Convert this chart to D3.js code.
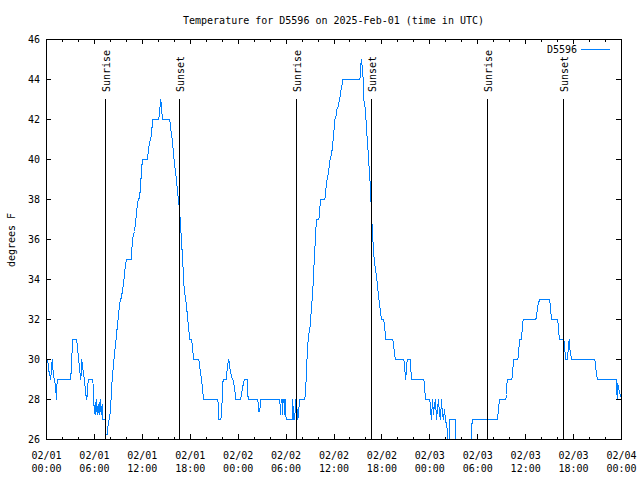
<!DOCTYPE html>
<html><head><meta charset="utf-8">
<script src="https://cdn.jsdelivr.net/npm/d3@7"></script>
<style>
body{margin:0;background:#fff}
svg{display:block}
text{font-family:"DejaVu Sans Mono","Liberation Mono",monospace;font-size:10px;fill:#000}
</style>
</head><body>
<svg id="c" width="640" height="480"></svg>
<script>
const chartTitle = "Temperature for D5596 on 2025-Feb-01 (time in UTC)";
const seriesName = "D5596";
const yAxisLabel = "degrees F";
const startTime = "2025-02-01T00:00:00Z";
const endTime = "2025-02-04T00:00:00Z";
const yDomain = [26, 46];
const yTicks = [26, 28, 30, 32, 34, 36, 38, 40, 42, 44, 46];
// sunrise / sunset, hours after start
const sunHours = [7.43, 16.69, 31.34, 40.73, 55.26, 64.78];
const sunLabels = ["Sunrise", "Sunset", "Sunrise", "Sunset", "Sunrise", "Sunset"];
// readings: [hours after start, degrees F]
const readingsDay1 = [[0.16,30],[0.25,29.5],[0.41,29.25],[0.54,29],[0.63,29.75],[0.75,30],[0.84,29.25],[1.00,29],[1.09,28.75],[1.21,28.25],[1.25,28],[1.34,29],[3.04,29],[3.09,29.5],[3.22,30.5],[3.29,31],[3.76,31],[3.84,30.75],[3.97,30.25],[4.09,29.75],[4.22,29.25],[4.30,29],[4.42,30],[4.55,29.5],[4.67,29.25],[4.80,28.75],[4.92,28.25],[5.05,28],[5.17,28.75],[5.30,29],[5.80,29],[5.89,28.25],[5.97,27.5],[6.10,27.25],[6.22,28],[6.35,27.25],[6.47,27.75],[6.60,27.25],[6.72,28],[6.85,27.25],[6.97,27.75],[7.05,27],[7.35,27],[7.43,26.25],[7.60,26.25],[7.72,26.75],[7.85,27],[7.93,27.2],[8.01,27.4],[8.14,28.5],[8.26,29.2],[8.39,29.75],[8.51,30.25],[8.64,30.75],[8.77,31.25],[8.89,31.75],[9.02,32.2],[9.14,32.75],[9.27,33],[9.39,33.1],[9.52,33.5],[9.64,33.75],[9.77,34.25],[9.89,34.75],[10.02,35],[10.61,35],[10.64,35.25],[10.77,36],[10.89,36.25],[11.02,36.4],[11.14,36.8],[11.27,37.3],[11.39,37.8],[11.52,38],[11.65,38.1],[11.77,38.6],[11.90,39.5],[12.02,40],[12.61,40],[12.68,40.2],[12.81,40.6],[12.93,40.9],[13.06,41],[13.19,41.5],[13.31,42],[14.06,42],[14.15,42.35],[14.24,42.75],[14.31,43],[14.44,42.35],[14.56,42],[15.44,42],[15.53,41.6],[15.65,41.3],[15.78,40.9],[15.90,40.3],[16.03,39.8],[16.15,39.4],[16.28,39],[16.40,38.4],[16.57,37.8],[16.69,37.3],[16.82,36.5],[16.94,35.7],[17.07,34.8],[17.19,33.8],[17.32,33.3],[17.44,33],[17.57,32.5],[17.69,32],[17.82,31.5],[17.94,31],[18.16,31],[18.24,30.75],[18.37,30.25],[18.45,30],[19.07,30],[19.16,29.75],[19.28,29.33],[19.41,29],[19.53,28.6],[19.66,28],[21.45,28],[21.50,27.75],[21.58,27],[21.83,27],[21.95,27.5],[22.04,28.5],[22.12,29],[22.50,29],[22.58,29.33],[22.70,29.75],[22.83,30],[22.95,29.6],[23.08,29.3],[23.20,29.1],[23.33,29],[23.45,28.8],[23.58,28.5],[23.70,28]];
const readingsDay2 = [[24.29,28],[24.42,28.25],[24.54,28.6],[24.67,28.8],[24.79,29],[25.13,29],[25.17,28.5],[25.26,28],[26.46,28],[26.58,27.4],[26.71,27.4],[26.79,28],[29.21,28],[29.30,27.25],[29.39,28],[29.51,28],[29.55,27.25],[29.64,28],[29.80,28],[29.84,27.25],[29.93,28],[30.00,27],[30.77,27],[30.84,28],[30.93,27],[31.09,27],[31.18,28],[31.39,27.5],[31.47,27],[31.59,27.5],[31.72,28],[32.31,28],[32.43,28.25],[32.56,29.5],[32.68,30.5],[32.81,31.2],[32.97,31.5],[33.10,32.17],[33.22,32.75],[33.35,33.5],[33.47,34.5],[33.60,35.5],[33.72,36.5],[33.85,37],[34.10,37],[34.18,37.33],[34.31,38],[34.85,38],[34.94,38.33],[35.06,38.83],[35.19,39.08],[35.31,39.33],[35.44,39.83],[35.56,40.08],[35.72,40.33],[35.85,40.83],[35.98,41.33],[36.10,42],[36.23,42.1],[36.35,42.5],[36.48,42.6],[36.60,42.83],[36.73,43.03],[36.85,43.42],[36.98,43.67],[37.10,44],[39.23,44],[39.32,44.33],[39.41,45],[39.53,44.67],[39.66,44],[39.73,43],[39.86,42.75],[39.98,42.17],[40.11,41.33],[40.23,40.67],[40.36,39.83],[40.48,39.17],[40.61,38.17],[40.70,37.17],[40.82,36.33],[40.94,35.5],[41.07,34.83],[41.20,34.5],[41.32,34.17],[41.45,33.67],[41.57,33.17],[41.70,32.83],[41.82,32.33],[41.95,32],[42.20,32],[42.32,31.75],[42.41,31.33],[42.48,31],[43.36,31],[43.45,30.75],[43.53,30.5],[43.61,30.17],[43.70,30],[44.74,30],[44.83,29.75],[44.91,29.25],[44.99,29],[45.08,29.75],[45.20,30],[45.54,30],[45.62,29.5],[45.71,29],[47.24,29],[47.33,28.75],[47.41,28.25],[47.49,28]];
const readingsDay3 = [[48.00,28],[48.08,27.5],[48.21,27],[48.33,28],[48.46,27.25],[48.58,27.75],[48.71,28],[48.83,27],[48.96,27.5],[49.08,28],[49.21,27.25],[49.33,27],[49.46,28],[49.58,27.25],[49.71,27],[49.83,27.5],[49.96,27],[50.18,26.5],[50.27,26],[50.40,26],[50.46,27],[51.21,27],[51.27,26],[53.21,26],[53.30,27],[56.47,27],[56.59,27.5],[56.72,28],[57.51,28],[57.60,28.25],[57.64,28.75],[57.73,29],[58.26,29],[58.35,29.25],[58.44,29.75],[58.51,30],[59.02,30],[59.10,30.25],[59.19,30.75],[59.27,31],[59.44,31],[59.52,31.25],[59.60,31.75],[59.69,32],[61.27,32],[61.36,32.17],[61.48,32.58],[61.61,32.83],[61.77,33],[63.02,33],[63.11,32.5],[63.27,32],[64.02,32],[64.11,31.5],[64.24,31],[64.78,31],[64.86,30.75],[64.95,30.25],[65.03,30],[65.20,30],[65.33,30.5],[65.45,31],[65.53,30.5],[65.65,30.25],[65.74,30],[68.66,30],[68.74,29.75],[68.87,29.25],[68.99,29],[71.34,29],[71.41,28.5],[71.46,28],[71.54,28.8],[71.66,28.5],[71.79,28.3],[71.91,28.2],[72.0,28]];

const readings = readingsDay1.concat(readingsDay2, readingsDay3);
const t0 = new Date(startTime), t1 = new Date(endTime);
const toDate = h => new Date(t0.getTime() + h * 3600000);

const svg = d3.select("#c");
const x = d3.scaleUtc().domain([t0, t1]).range([46, 621]);
const y = d3.scaleLinear().domain(yDomain).range([439, 39]);

svg.append("rect").attr("width", 640).attr("height", 480).attr("fill", "#fff");

svg.append("clipPath").attr("id", "plotclip").append("rect")
  .attr("x", 46).attr("y", 39).attr("width", 576).attr("height", 401);

// data line
svg.append("path").datum(readings)
  .attr("clip-path", "url(#plotclip)")
  .attr("fill", "none").attr("stroke", "#0080ff").attr("stroke-width", 1)
  .attr("shape-rendering", "crispEdges")
  .attr("d", d3.line().x(d => x(toDate(d[0])) + 0.5).y(d => y(d[1]) + 0.5));

// sunrise / sunset markers
const sun = svg.append("g");
sunHours.forEach((h, i) => {
  const sx = Math.round(x(toDate(h))) + 0.5;
  sun.append("line").attr("x1", sx).attr("x2", sx).attr("y1", 99).attr("y2", 439.5)
    .attr("stroke", "#000").attr("stroke-width", 1).attr("shape-rendering", "crispEdges");
  sun.append("text").attr("transform", `translate(${sx + 4.5},92) rotate(-90)`)
    .attr("text-anchor", "start").text(sunLabels[i]);
});

function style(g) {
  g.select(".domain").remove();
  g.attr("color", "#000").attr("font-family", null).attr("font-size", null)
   .attr("shape-rendering", "crispEdges");
}
const minorT = d3.utcHour.every(2), majorT = d3.utcHour.every(6);
// bottom
svg.append("g").attr("transform", "translate(0,439)")
  .call(d3.axisBottom(x).ticks(minorT).tickSize(-2.5).tickFormat(() => "")).call(style);
const bx = svg.append("g").attr("transform", "translate(0,439)")
  .call(d3.axisBottom(x).ticks(majorT).tickSize(-5).tickFormat(() => "")).call(style);
const fmtD = d3.utcFormat("%m/%d"), fmtT = d3.utcFormat("%H:%M");
bx.selectAll(".tick text").each(function(d) {
  const t = d3.select(this).attr("y", null).attr("dy", null);
  t.append("tspan").attr("x", 0).attr("y", 19.5).text(fmtD(d));
  t.append("tspan").attr("x", 0).attr("y", 32.5).text(fmtT(d));
});
// top
svg.append("g").attr("transform", "translate(0,39)")
  .call(d3.axisTop(x).ticks(minorT).tickSize(-2.5).tickFormat(() => "")).call(style);
svg.append("g").attr("transform", "translate(0,39)")
  .call(d3.axisTop(x).ticks(majorT).tickSize(-5).tickFormat(() => "")).call(style);
// left
svg.append("g").attr("transform", "translate(46,0)")
  .call(d3.axisLeft(y).tickValues(yTicks).tickSize(-5).tickPadding(6).tickFormat(d3.format("d"))).call(style);
// right
svg.append("g").attr("transform", "translate(621,0)")
  .call(d3.axisRight(y).tickValues(yTicks).tickSize(-5).tickFormat(() => "")).call(style);

// border
svg.append("rect").attr("x", 46.5).attr("y", 39.5).attr("width", 575).attr("height", 400)
  .attr("fill", "none").attr("stroke", "#000").attr("shape-rendering", "crispEdges");

// title and labels
svg.append("text").attr("x", 333.5).attr("y", 24).attr("text-anchor", "middle").text(chartTitle);
svg.append("text").attr("transform", "translate(15,240) rotate(-90)").attr("text-anchor", "middle").text(yAxisLabel);

// legend
svg.append("text").attr("x", 577).attr("y", 53).attr("text-anchor", "end").text(seriesName);
svg.append("line").attr("x1", 581).attr("x2", 610).attr("y1", 49.5).attr("y2", 49.5)
  .attr("stroke", "#0080ff").attr("stroke-width", 1).attr("shape-rendering", "crispEdges");
</script>
</body></html>
